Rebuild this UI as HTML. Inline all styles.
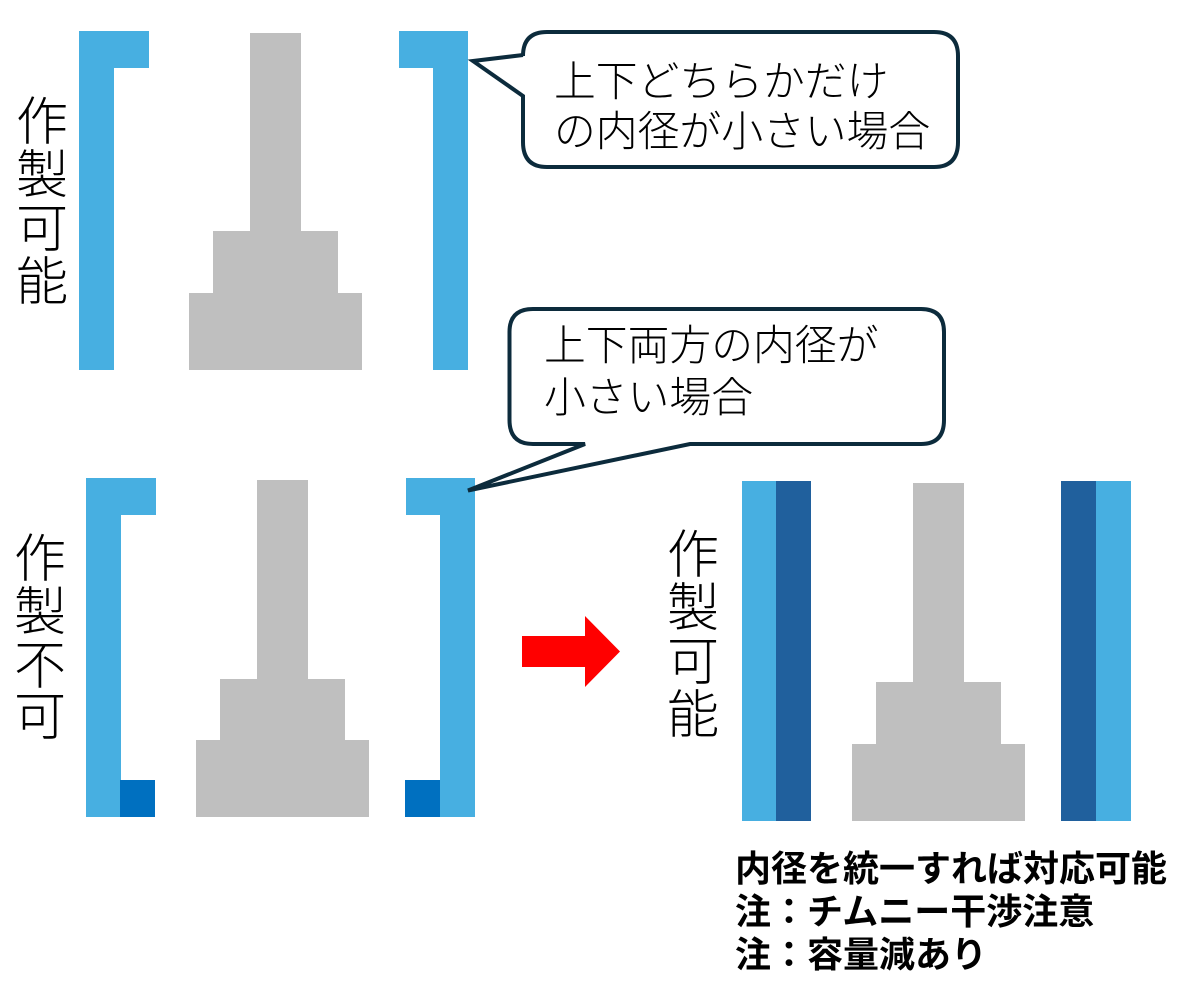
<!DOCTYPE html>
<html><head><meta charset="utf-8"><style>
html,body{margin:0;padding:0;background:#fff;width:1193px;height:1001px;overflow:hidden}
svg{display:block}
text{font-family:"Liberation Sans","Noto Sans CJK JP",sans-serif;fill:#000}
.l{font-weight:300;font-size:41.8px;fill:#000}
.v{font-weight:300;font-size:52px;text-anchor:middle;fill:#000}
.b{font-weight:700;font-size:36px;fill:#000}
</style></head><body>
<svg width="1193" height="1001" viewBox="0 0 1193 1001" xmlns="http://www.w3.org/2000/svg">
<g fill="#47afe1">
<path d="M79 31H149V68H114V370H79Z"/>
<path d="M399 31H468V370H433V68H399Z"/>
<path d="M86 478H156V515H121V817H86Z"/>
<path d="M406 478H475V817H440V515H406Z"/>
<rect x="742" y="481" width="35" height="340"/>
<rect x="1096" y="481" width="35" height="340"/>
</g>
<g fill="#0070c0">
<rect x="120" y="780" width="35" height="37"/>
<rect x="405" y="780" width="35" height="37"/>
</g>
<g fill="#20609d">
<rect x="776" y="481" width="35" height="340"/>
<rect x="1061" y="481" width="35" height="340"/>
</g>
<g fill="#bfbfbf">
<path d="M250 33H301V231H338V293H362V370H189V293H213V231H250Z"/>
<path d="M257 480H308V679H345V740H369V817H196V740H220V679H257Z"/>
<path d="M913 483H964V682H1001V744H1025V821H852V744H876V682H913Z"/>
</g>
<path d="M522 636H585V616L620 651.500L585 687V667H522Z" fill="#ff0000"/>
<path d="M523 55 V56 Q523 32 547 32 H934 Q958 32 958 56 V142 Q958 167 934 167 H547 Q523 167 523 142 V96 L473 61 Z" fill="#fff" stroke="#0c2b3c" stroke-width="4" stroke-linejoin="miter"/>
<path d="M509.500 332 Q509.500 309 533 309 H921 Q944 309 944 332 V420 Q944 444 921 444 H690 L468 490.500 L585 444 H533 Q509.500 444 509.500 420 Z" fill="#fff" stroke="#0c2b3c" stroke-width="4" stroke-linejoin="miter"/>
<text class="l" x="554" y="96">上下どちらかだけ</text>
<text class="l" x="554" y="146">の内径が小さい場合</text>
<text class="l" x="544" y="360">上下両方の内径が</text>
<text class="l" x="544" y="412">小さい場合</text>
<text class="v" x="42" y="140">作</text>
<text class="v" x="42" y="193">製</text>
<text class="v" x="42" y="247">可</text>
<text class="v" x="42" y="300">能</text>
<text class="v" x="40" y="577">作</text>
<text class="v" x="40" y="630">製</text>
<text class="v" x="40" y="684">不</text>
<text class="v" x="40" y="735">可</text>
<text class="v" x="693" y="573">作</text>
<text class="v" x="693" y="626">製</text>
<text class="v" x="693" y="680">可</text>
<text class="v" x="693" y="733">能</text>
<text class="b" x="735" y="881">内径を統一すれば対応可能</text>
<text class="b" x="735" y="924">注：チムニー干渉注意</text>
<text class="b" x="735" y="967">注：容量減あり</text>
</svg>
</body></html>
